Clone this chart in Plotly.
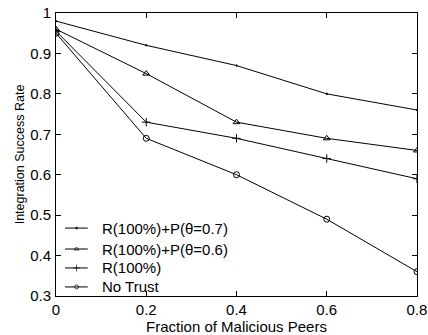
import plotly.graph_objects as go

x = [0, 0.2, 0.4, 0.6, 0.8]
x_ticktext = ["0", "0.2", "0.4", "0.6", "0.8"]
y_tickvals = [0.3, 0.4, 0.5, 0.6, 0.7, 0.8, 0.9, 1]
y_ticktext = ["0.3", "0.4", "0.5", "0.6", "0.7", "0.8", "0.9", "1"]
names = ["R(100%)+P(θ=0.7)", "R(100%)+P(θ=0.6)", "R(100%)", "No Trust"]
rp07 = [0.98, 0.92, 0.87, 0.80, 0.76]
rp06 = [0.96, 0.85, 0.73, 0.69, 0.66]
r100 = [0.955, 0.73, 0.69, 0.64, 0.59]
notrust = [0.95, 0.69, 0.60, 0.49, 0.36]

series = [rp07, rp06, r100, notrust]
symbols = ["circle", "triangle-up-open", "cross-thin-open", "circle-open"]
sizes = [1.5, 6, 6, 6]
leg_sizes = [2, 4, 5, 4]

# legend layout (fractions of the plot area)
leg_rows = [0.240, 0.166, 0.099, 0.032]
leg_x0, leg_xm, leg_x1, leg_tx = 0.025, 0.057, 0.088, 0.122

fig = go.Figure()
for nm, ys, sym, sz in zip(names, series, symbols, sizes):
    fig.add_trace(go.Scatter(
        x=x, y=ys, name=nm, mode="lines+markers", showlegend=False,
        line=dict(color="black", width=1),
        marker=dict(symbol=sym, size=sz, color="black", line=dict(color="black", width=1)),
    ))

# custom legend on hidden overlay axes
for nm, ry, sym, sz in zip(names, leg_rows, symbols, leg_sizes):
    fig.add_trace(go.Scatter(
        x=[leg_x0, leg_xm, leg_x1], y=[ry, ry, ry], xaxis="x2", yaxis="y2",
        mode="lines+markers", showlegend=False, hoverinfo="skip",
        line=dict(color="black", width=1),
        marker=dict(symbol=sym, size=[0, sz, 0], color="black", line=dict(color="black", width=1)),
    ))
    fig.add_annotation(x=leg_tx, y=ry, xref="x2", yref="y2", text=nm, showarrow=False,
                       xanchor="left", yanchor="middle", font=dict(size=15))

font = "Liberation Sans, Arial, sans-serif"
fig.update_layout(
    width=428, height=335,
    margin=dict(l=56, r=11, t=13, b=39, autoexpand=False),
    paper_bgcolor="white", plot_bgcolor="white",
    font=dict(family=font, size=15, color="black"),
    showlegend=False,
    xaxis=dict(range=[0, 0.8], tickvals=x, ticktext=x_ticktext, automargin=False,
               ticks="inside", ticklen=5, tickcolor="black", showline=True, linecolor="black",
               linewidth=1, mirror="ticks", showgrid=False, zeroline=False,
               ticklabelstandoff=0,
               title=dict(text="Fraction of Malicious Peers", font=dict(size=15), standoff=3)),
    yaxis=dict(range=[0.3, 1], tickvals=y_tickvals, ticktext=y_ticktext, automargin=False,
               ticks="inside", ticklen=5, tickcolor="black", showline=True, linecolor="black",
               linewidth=1, mirror="ticks", showgrid=False, zeroline=False,
               ticklabelstandoff=1,
               title=dict(text="Integration Success Rate", font=dict(size=12.5), standoff=2)),
    xaxis2=dict(range=[0, 1], overlaying="x", visible=False, automargin=False),
    yaxis2=dict(range=[0, 1], overlaying="y", visible=False, automargin=False),
)
fig.write_html("out.html")
